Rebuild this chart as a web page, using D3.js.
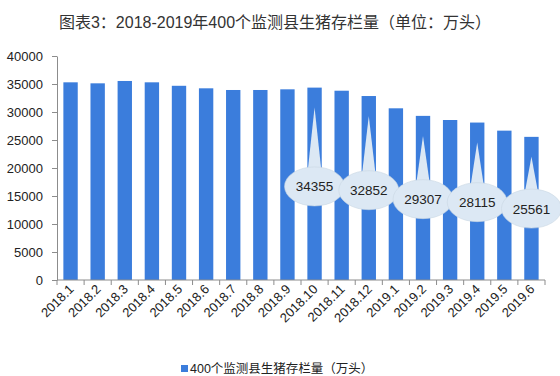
<!DOCTYPE html>
<html lang="zh">
<head>
    <meta charset="UTF-8">
    <title>生猪存栏量</title>
    <script src="https://d3js.org/d3.v7.min.js"></script>
    <style>
        body { margin: 0; background: #fff; }
        text { font-family: "Liberation Sans", Arial, "Noto Sans CJK SC", sans-serif; fill: #222; }
        .axis path, .axis line { stroke: #8c8c8c; }
    </style>
</head>
<body>
<script>
    const months = ["2018.1", "2018.2", "2018.3", "2018.4", "2018.5", "2018.6", "2018.7", "2018.8", "2018.9",
                    "2018.10", "2018.11", "2018.12", "2019.1", "2019.2", "2019.3", "2019.4", "2019.5", "2019.6"];
    const stock = [35300, 35120, 35540, 35300, 34680, 34230, 33930, 33930, 34050,
                   34355, 33800, 32852, 30660, 29307, 28570, 28115, 26670, 25561];
    const labelled = ["2018.10", "2018.12", "2019.2", "2019.4", "2019.6"];
    const yTicks = [0, 5000, 10000, 15000, 20000, 25000, 30000, 35000, 40000];
    const title = "图表3：2018-2019年400个监测县生猪存栏量（单位：万头）";
    const seriesName = "400个监测县生猪存栏量（万头）";

    const width = 560, height = 376;
    const barColor = "#3b7ddc";
    const bubbleColor = "#dce8f4";

    const svg = d3.select("body").append("svg").attr("width", width).attr("height", height);

    const x = d3.scaleBand().domain(months).range([57, 545]).paddingInner(0.47).paddingOuter(0.235);
    const y = d3.scaleLinear().domain([0, 40000]).range([280, 56]);

    svg.append("text")
        .attr("x", 275).attr("y", 28)
        .attr("text-anchor", "middle")
        .style("font-size", "16px").style("fill", "#333")
        .text(title);

    svg.selectAll("rect.bar")
        .data(stock)
        .enter()
        .append("rect")
        .attr("class", "bar")
        .attr("x", (d, i) => x(months[i]))
        .attr("y", d => y(d))
        .attr("width", x.bandwidth())
        .attr("height", d => y(0) - y(d))
        .attr("fill", barColor);

    // y axis
    const yAxis = svg.append("g").attr("class", "axis")
        .attr("transform", "translate(57,0)")
        .call(d3.axisLeft(y).tickValues(yTicks).tickFormat(d3.format("d")).tickSize(5).tickSizeOuter(0).tickPadding(9));
    yAxis.selectAll("text").style("font-size", "13px");

    // x axis with ticks on category boundaries
    const xg = svg.append("g").attr("class", "axis");
    xg.append("line").attr("x1", 57).attr("x2", 545).attr("y1", 280).attr("y2", 280);
    const step = x.step();
    xg.selectAll("line.tk")
        .data(d3.range(months.length + 1))
        .enter()
        .append("line")
        .attr("class", "tk")
        .attr("x1", i => 57 + i * step).attr("x2", i => 57 + i * step)
        .attr("y1", 280).attr("y2", 285);
    xg.selectAll("text")
        .data(months)
        .enter()
        .append("text")
        .attr("text-anchor", "end")
        .attr("transform", d => "translate(" + (x(d) + x.bandwidth() / 2 + 4) + ",290) rotate(-45)")
        .style("font-size", "13px")
        .text(d => d);

    // callout bubbles
    const bubbles = labelled.map(m => ({ m: m, v: stock[months.indexOf(m)] }));
    const bg = svg.append("g");
    bubbles.forEach(b => {
        const cx = x(b.m) + x.bandwidth() / 2;
        const cy = 147 + 0.45 * y(b.v);
        const tip = y(b.v) + 20;
        bg.append("path")
            .attr("d", "M" + (cx - 7) + "," + (cy - 14) + "L" + cx + "," + tip + "L" + (cx + 7) + "," + (cy - 14) + "Z")
            .attr("fill", bubbleColor);
        bg.append("ellipse")
            .attr("cx", cx).attr("cy", cy).attr("rx", 30).attr("ry", 19.5)
            .attr("fill", bubbleColor)
            .attr("stroke", "#c9d6e3").attr("stroke-width", 0.6);
    });
    bg.selectAll("text")
        .data(bubbles)
        .enter()
        .append("text")
        .attr("x", d => x(d.m) + x.bandwidth() / 2)
        .attr("y", d => 147 + 0.45 * y(d.v) + 5)
        .attr("text-anchor", "middle")
        .style("font-size", "13.5px")
        .text(d => d.v);

    // legend
    svg.append("rect")
        .attr("x", 181).attr("y", 365).attr("width", 7).attr("height", 7)
        .attr("fill", barColor);
    svg.append("text")
        .attr("x", 190).attr("y", 373)
        .style("font-size", "12.5px")
        .text(seriesName);
</script>
</body>
</html>
